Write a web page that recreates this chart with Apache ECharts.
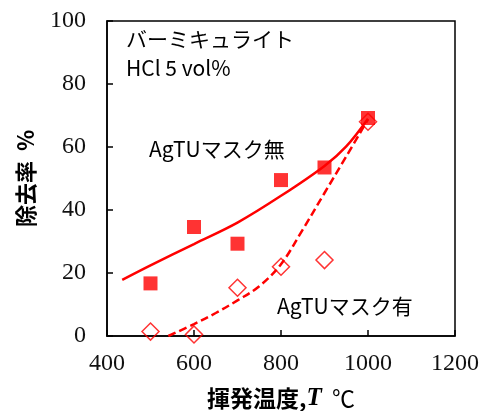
<!DOCTYPE html>
<html>
<head>
<meta charset="utf-8">
<script src="https://cdn.jsdelivr.net/npm/echarts@6/dist/echarts.min.js"></script>
<style>
  html, body { margin: 0; padding: 0; background: #fff; }
  #chart { width: 484px; height: 411px; }
</style>
</head>
<body>
<div id="chart"></div>
<script>
// Removal rate vs. volatilization temperature (vermiculite, HCl 5 vol%)
const tempsMeasured = [500, 600, 700, 800, 900, 1000];
const removalNoMask = [16.7, 34.6, 29.3, 49.5, 53.5, 69.2];
const removalWithMask = [1.4, 0.5, 15.3, 22.0, 24.1, 68.0];

// Trend curves
const trendNoMaskT = [435, 500, 600, 700, 800, 900, 950, 1000];
const trendNoMaskV = [17.8, 22.4, 29.2, 36.0, 44.5, 54.0, 60.2, 69.0];
const trendMaskT = [541, 600, 650, 700, 750, 800, 850, 900, 950, 1000];
const trendMaskV = [0.0, 3.8, 7.3, 11.3, 15.8, 22.8, 33.8, 45.4, 57.0, 68.8];

const xTicks = [400, 600, 800, 1000, 1200];
const yTicks = [0, 20, 40, 60, 80, 100];

const pairs = (xs, ys) => xs.map((x, i) => [x, ys[i]]);

const RED = '#ff0000';
const JP = '"Noto Sans CJK JP", "Noto Sans", sans-serif';
const SERIF = '"Liberation Serif", "DejaVu Serif", serif';

const chart = echarts.init(document.getElementById('chart'), null, { renderer: 'canvas' });

chart.setOption({
  animation: false,
  backgroundColor: '#fff',
  grid: {
    left: 107, top: 21, right: 29, bottom: 75,
    outerBoundsMode: 'none', containLabel: false,
    show: true, borderColor: '#000', borderWidth: 1.5, backgroundColor: 'transparent'
  },
  xAxis: {
    type: 'value', min: xTicks[0], max: xTicks[xTicks.length - 1], interval: 200,
    axisLine: { show: true, lineStyle: { color: '#000', width: 1.5 } },
    axisTick: { show: true, inside: true, length: 6, lineStyle: { color: '#000', width: 1.5 } },
    splitLine: { show: false },
    axisLabel: { color: '#111', fontFamily: SERIF, fontSize: 24, margin: 16, formatter: v => String(v) },
    name: '{b|揮発温度,}{i|T}{c|  ℃}',
    nameLocation: 'middle', nameGap: 50,
    nameTextStyle: {
      rich: {
        b: { fontFamily: JP, fontWeight: 'bold', fontSize: 23, color: '#000' },
        i: { fontFamily: SERIF, fontWeight: 'bold', fontStyle: 'italic', fontSize: 25, color: '#000' },
        c: { fontFamily: JP, fontSize: 23, color: '#000' }
      }
    }
  },
  yAxis: {
    type: 'value', min: yTicks[0], max: yTicks[yTicks.length - 1], interval: 20,
    axisLine: { show: true, lineStyle: { color: '#000', width: 1.5 } },
    axisTick: { show: true, inside: true, length: 6, lineStyle: { color: '#000', width: 1.5 } },
    splitLine: { show: false },
    axisLabel: { color: '#111', fontFamily: SERIF, fontSize: 24, margin: 21, formatter: v => String(v) },
    name: '除去率  %',
    nameLocation: 'middle', nameGap: 70, nameRotate: 90,
    nameTextStyle: { fontFamily: JP, fontWeight: 'bold', fontSize: 22, color: '#000' }
  },
  graphic: [
    { type: 'text', left: 126, top: 29, style: { text: 'バーミキュライト', font: '21px ' + JP, fill: '#000' } },
    { type: 'text', left: 126, top: 58, style: { text: 'HCl 5 vol%', font: '21px ' + JP, fill: '#000' } },
    { type: 'text', left: 149, top: 139, style: { text: 'AgTUマスク無', font: '21px ' + JP, fill: '#000' } },
    { type: 'text', left: 277, top: 296, style: { text: 'AgTUマスク有', font: '21px ' + JP, fill: '#000' } }
  ],
  series: [
    {
      name: 'trendNoMask', type: 'line', smooth: 0.35, showSymbol: false, symbol: 'none',
      data: pairs(trendNoMaskT, trendNoMaskV),
      lineStyle: { color: RED, width: 2.5 }, z: 2
    },
    {
      name: 'trendMask', type: 'line', smooth: 0.35, showSymbol: false, symbol: 'none',
      data: pairs(trendMaskT, trendMaskV),
      lineStyle: { color: RED, width: 2.5, type: [8, 4] }, z: 2
    },
    {
      name: 'AgTUマスク無', type: 'scatter', symbol: 'rect', symbolSize: 14,
      data: pairs(tempsMeasured, removalNoMask),
      itemStyle: { color: RED }, z: 3
    },
    {
      name: 'AgTUマスク有', type: 'scatter', symbol: 'diamond', symbolSize: 17, clip: false,
      data: pairs(tempsMeasured, removalWithMask),
      itemStyle: { color: 'rgba(255,255,255,0)', borderColor: RED, borderWidth: 1.5 }, z: 3
    }
  ]
});
</script>
</body>
</html>
